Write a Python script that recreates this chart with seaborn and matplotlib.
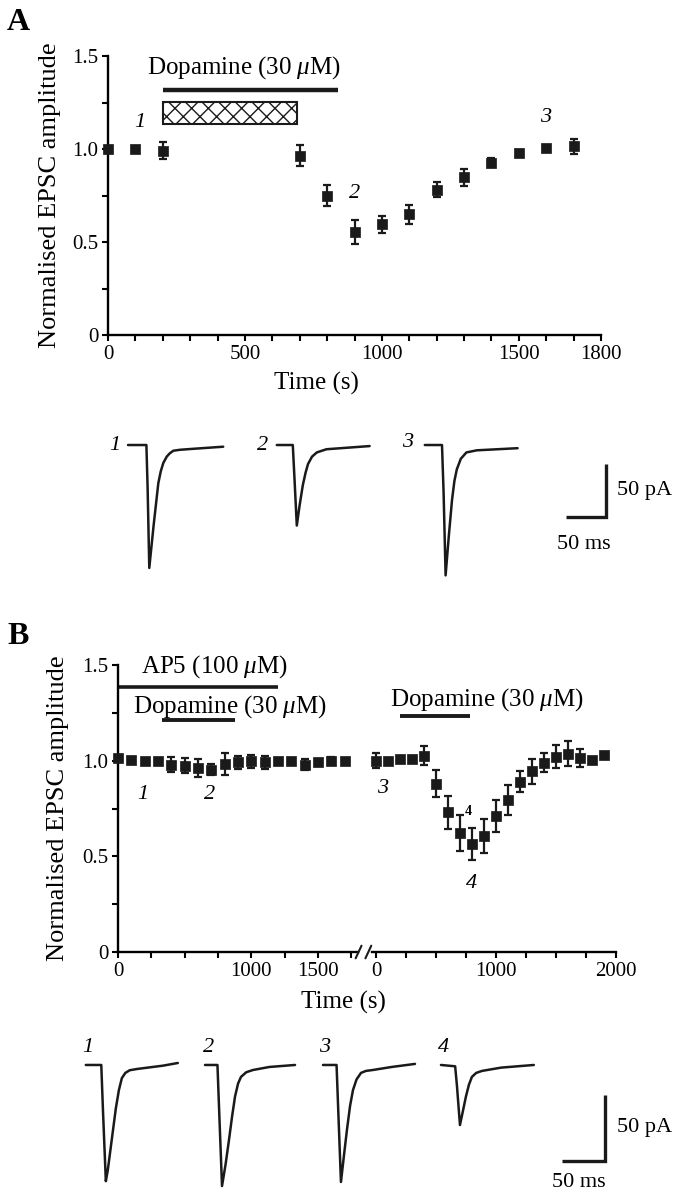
import numpy as np
import pandas as pd
import matplotlib
matplotlib.use('Agg')
import matplotlib.pyplot as plt
from matplotlib.patches import Rectangle
import seaborn as sns

# ---------------- data ----------------
# panel A time course (s, normalised amplitude, s.e.m.)
a_time = [0, 100, 200, 700, 800, 900, 1000, 1100, 1200, 1300, 1400, 1500, 1600, 1700]
a_amp = [1.0, 1.0, 0.99, 0.965, 0.75, 0.553, 0.595, 0.648, 0.78, 0.847, 0.926, 0.98, 1.005, 1.015]
a_sem = [0.0, 0.0, 0.045, 0.058, 0.055, 0.065, 0.045, 0.05, 0.04, 0.047, 0.025, 0.015, 0.01, 0.04]
a_dopamine = (200, 840)
a_hatch = (200, 690)
a_xticks = list(range(0, 1801, 100))
a_xlabels = {0: '0', 500: '500', 1000: '1000', 1500: '1500', 1800: '1800'}

# panel B, left part (AP5 + dopamine)
b1_time = list(range(0, 1701, 100))
b1_amp = [1.014, 1.002, 1.0, 0.996, 0.979, 0.974, 0.962, 0.953, 0.984, 0.991,
          0.996, 0.991, 1.0, 1.0, 0.979, 0.991, 1.0, 1.0]
b1_sem = [0.0, 0.0, 0.0, 0.0, 0.04, 0.04, 0.045, 0.03, 0.057, 0.035,
          0.035, 0.035, 0.0, 0.0, 0.03, 0.0, 0.02, 0.0]
b1_ap5 = (0, 1200)
b1_dopamine = (330, 880)
# panel B, right part (dopamine alone)
b2_time = list(range(0, 1901, 100))
b2_amp = [1.0, 1.0, 1.01, 1.01, 1.026, 0.88, 0.73, 0.62, 0.565, 0.607,
          0.71, 0.796, 0.89, 0.944, 0.99, 1.02, 1.036, 1.015, 1.005, 1.03]
b2_sem = [0.04, 0.0, 0.0, 0.0, 0.05, 0.07, 0.085, 0.094, 0.084, 0.09,
          0.085, 0.079, 0.055, 0.065, 0.048, 0.06, 0.065, 0.047, 0.0, 0.0]
b2_dopamine = (200, 780)
b_xticks1 = list(range(0, 1751, 250))
b_xlabels1 = {0: '0', 1000: '1000', 1500: '1500'}
b_xticks2 = list(range(0, 2001, 250))
b_xlabels2 = {0: '0', 1000: '1000', 2000: '2000'}

y_ticks = [0, 0.25, 0.5, 0.75, 1.0, 1.25, 1.5]
y_labels = ['0', '', '0.5', '', '1.0', '', '1.5']

# example EPSCs (ms, pA), panel A
ta1_t = [0, 23, 24.5, 26.6, 32, 37.9, 40.9, 44.1, 48.4, 52, 56.6, 65, 77.5, 119]
ta1_i = [0, 0, -40, -116, -76, -36, -25, -17, -11, -8, -5.4, -4.5, -3.8, -1.6]
ta2_t = [0, 20, 22, 25, 28.5, 32.5, 36, 39, 44, 50, 62, 116]
ta2_i = [0, 0, -30, -76, -57, -38, -26, -18, -11, -7, -4, -1]
ta3_t = [0, 21.5, 23.5, 26, 30, 34, 37, 40, 45, 52, 65, 116]
ta3_i = [0, 0, -45, -123, -86, -52, -34, -23, -13, -7, -5, -3]
# example EPSCs (ms, pA), panel B
tb1_t = [0, 18, 20, 23.3, 25.5, 27.9, 31.5, 34.9, 38.5, 41.9, 46, 51, 60, 72, 90, 107]
tb1_i = [0, 0, -35, -88, -80, -68, -50, -33, -19, -10, -6, -4, -3, -2, -0.5, 1.5]
tb2_t = [0, 14.5, 16.5, 19.8, 24, 27.9, 31.5, 34.9, 38.5, 41.9, 48, 55.8, 75, 104.7]
tb2_i = [0, 0, -35, -91.7, -75, -56.8, -39, -24, -14, -9, -5.5, -3.8, -1.5, 0]
tb3_t = [0, 15.8, 17.8, 20.9, 24.5, 27.9, 31.5, 34.9, 39, 44.2, 50, 58, 80, 107]
tb3_i = [0, 0, -35, -88.6, -68, -49, -31, -19, -11, -6, -4.5, -3.8, -1.5, 0.8]
tb4_t = [0, 16.5, 18.5, 22.1, 25.5, 29, 32.5, 36, 41, 47.7, 70, 108]
tb4_i = [0, -1, -15, -45.5, -35, -24, -15, -9, -6, -4.5, -2, 0]
scale_ms = 50
scale_pA = 50

# ---------------- style ----------------
sns.set_theme(style='ticks')
plt.rcParams['font.family'] = ['Liberation Serif', 'DejaVu Serif']
plt.rcParams['mathtext.fontset'] = 'custom'
plt.rcParams['mathtext.rm'] = 'Liberation Serif'
plt.rcParams['mathtext.it'] = 'Liberation Serif:italic'
plt.rcParams['hatch.linewidth'] = 1.0
plt.rcParams['axes.linewidth'] = 1.7
plt.rcParams['axes.edgecolor'] = 'black'
plt.rcParams['xtick.color'] = 'black'
plt.rcParams['ytick.color'] = 'black'
plt.rcParams['text.color'] = 'black'
plt.rcParams['axes.labelcolor'] = 'black'

W, H = 690, 1199
fig = plt.figure(figsize=(W / 100, H / 100), dpi=100)
fig.patch.set_facecolor('white')


def px_axes(left, top, width, height):
    return fig.add_axes([left / W, 1 - (top + height) / H, width / W, height / H])


def style_axis(ax, xticks, xlabels):
    ax.set_facecolor('none')
    ax.set_xticks(xticks)
    ax.set_xticklabels([xlabels.get(t, '') for t in xticks])
    ax.tick_params(axis='both', direction='out', length=4, width=1.5,
                   labelsize=15, pad=3)
    sns.despine(ax=ax)


def time_course(ax, t, amp, sem):
    ax.errorbar(t, amp, yerr=sem, fmt='none', ecolor='k', elinewidth=1.6,
                capsize=3, capthick=1.6, clip_on=False, zorder=2)
    sns.scatterplot(x=t, y=amp, marker='s', s=50, color='k', edgecolor='k',
                    linewidth=0.5, ax=ax, clip_on=False, zorder=3, legend=False)


def drug_bar(ax, span, y, lw=3.2):
    ax.plot(list(span), [y, y], color='k', lw=lw, solid_capstyle='butt',
            clip_on=False)


def traces(ax, trace_list, offsets):
    for (t, i), off in zip(trace_list, offsets):
        df = pd.DataFrame({'t': np.array(t) + off, 'i': i})
        sns.lineplot(data=df, x='t', y='i', ax=ax, color='k', lw=1.8,
                     sort=False, estimator=None)
    ax.set_xlabel('')
    ax.set_ylabel('')
    ax.axis('off')


def scale_bar(ax, x_end, y0, ms_dy):
    ax.plot([x_end - scale_ms, x_end, x_end], [y0, y0, y0 + scale_pA],
            color='k', lw=2.4, solid_capstyle='butt', solid_joinstyle='miter')
    ax.text(x_end + 14, y0 + scale_pA / 2, f'{scale_pA} pA', fontsize=16,
            va='center', ha='left')
    ax.text(x_end - scale_ms - 11, y0 - ms_dy, f'{scale_ms} ms', fontsize=16,
            va='center', ha='left')


lab = dict(fontsize=16, style='italic', ha='center', va='center')

# ---------------- panel A ----------------
fig.text(7 / W, 1 - 23 / H, 'A', fontsize=23, fontweight='bold', va='center')
axA = px_axes(108, 56, 493, 279)
axA.set_xlim(0, 1800)
axA.set_ylim(0, 1.5)
time_course(axA, a_time, a_amp, a_sem)
axA.set_yticks(y_ticks)
axA.set_yticklabels(y_labels)
style_axis(axA, a_xticks, a_xlabels)
axA.set_ylabel('Normalised EPSC amplitude', fontsize=19)
axA.yaxis.set_label_coords((50 - 108) / 493, 0.5)
axA.yaxis.label.set_va('center')
axA.set_xlabel('Time (s)', fontsize=18)
axA.xaxis.set_label_coords((316 - 108) / 493, (335 - 383) / 279)
axA.xaxis.label.set_va('center')

drug_bar(axA, a_dopamine, 1.317)
axA.add_patch(Rectangle((a_hatch[0], 1.134), a_hatch[1] - a_hatch[0], 0.119,
                        facecolor='white', edgecolor='k', hatch='xx', lw=1.5))
axA.text(496, 1.44, r'Dopamine (30 $\mathit{\mu}$M)', fontsize=18,
         ha='center', va='center')
axA.text(117, 1.145, '1', **lab)
axA.text(901, 0.763, '2', **lab)
axA.text(1598, 1.172, '3', **lab)

# panel A traces
axTA = px_axes(100, 420, 590, 170)
axTA.set_xlim(0, 737.5)
axTA.set_ylim(-136.8, 23.6)
traces(axTA, [(ta1_t, ta1_i), (ta2_t, ta2_i), (ta3_t, ta3_i)], [35, 221, 406])
axTA.text(18.75, 0, '1', **lab)
axTA.text(203.75, 0, '2', **lab)
axTA.text(385, 1.9, '3', **lab)
scale_bar(axTA, 632.5, -67.9, 26)

# ---------------- panel B ----------------
fig.text(7 / W, 1 - 636 / H, 'B', fontsize=23, fontweight='bold', va='center')
axB1 = px_axes(118, 665, 240, 287)
axB1.set_xlim(0, 1800)
axB1.set_ylim(0, 1.5)
time_course(axB1, b1_time, b1_amp, b1_sem)
axB1.set_yticks(y_ticks)
axB1.set_yticklabels(y_labels)
style_axis(axB1, b_xticks1, b_xlabels1)
axB1.set_ylabel('Normalised EPSC amplitude', fontsize=19)
axB1.yaxis.set_label_coords((58 - 118) / 240, 0.5)
axB1.yaxis.label.set_va('center')

axB2 = px_axes(372, 665, 244, 287)
axB2.set_xlim(-33, 2000)
axB2.set_ylim(0, 1.5)
time_course(axB2, b2_time, b2_amp, b2_sem)
style_axis(axB2, b_xticks2, b_xlabels2)
axB2.spines['left'].set_visible(False)
axB2.set_yticks([])

# axis break marks
for dx in (-0.055, -0.015):
    axB2.plot([dx - 0.012, dx + 0.012], [-0.022, 0.022], transform=axB2.transAxes,
              color='k', lw=1.5, clip_on=False)

fig.text(343 / W, 1 - 1002 / H, 'Time (s)', fontsize=18, ha='center', va='center')

drug_bar(axB1, b1_ap5, 1.387, lw=2.6)
drug_bar(axB1, b1_dopamine, 1.215, lw=2.8)
drug_bar(axB2, b2_dopamine, 1.236, lw=2.8)
axB1.text(720, 1.49, r'AP5 (100 $\mathit{\mu}$M)', fontsize=18, ha='center', va='center')
axB1.text(840, 1.283, r'Dopamine (30 $\mathit{\mu}$M)', fontsize=18,
          ha='center', va='center', clip_on=False)
axB2.text(925, 1.319, r'Dopamine (30 $\mathit{\mu}$M)', fontsize=18,
          ha='center', va='center', clip_on=False)
axB1.text(188, 0.822, '1', **lab)
axB1.text(690, 0.822, '2', **lab)
axB2.text(58, 0.853, '3', **lab)
axB2.text(767, 0.733, '4', fontsize=10, fontweight='bold', ha='center', va='center')
axB2.text(800, 0.356, '4', **lab)

# panel B traces
axTB = px_axes(60, 1035, 630, 164)
axTB.set_xlim(0, 732.6)
axTB.set_ylim(-101.5, 22.7)
traces(axTB, [(tb1_t, tb1_i), (tb2_t, tb2_i), (tb3_t, tb3_i), (tb4_t, tb4_i)],
       [30, 168.6, 305.8, 443])
for x, n in zip([32.6, 173, 308, 446.5], ['1', '2', '3', '4']):
    axTB.text(x, 12.9, n, **lab)
scale_bar(axTB, 633.7, -72.7, 16.5)

fig.savefig('out.png', dpi=100, facecolor='white')
